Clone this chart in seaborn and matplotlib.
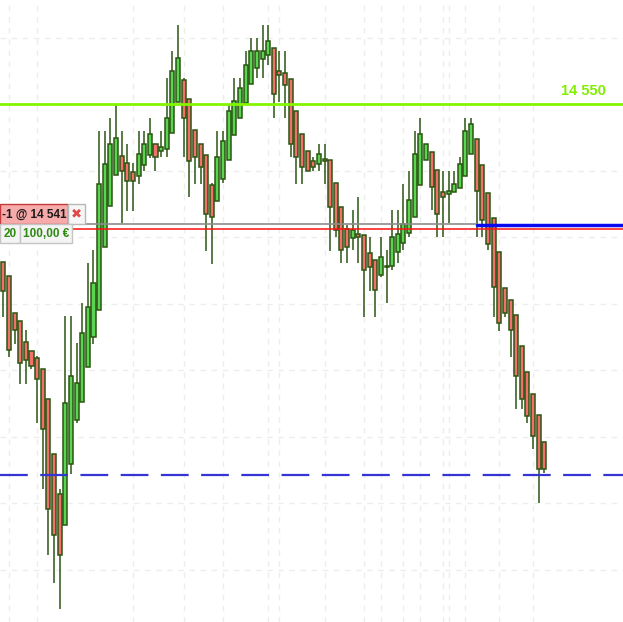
import numpy as np
import pandas as pd
import seaborn as sns
import matplotlib.pyplot as plt
from matplotlib.patches import Rectangle

# candle data (price points), one row per bar
opens = [14538.10, 14537.05, 14534.26, 14533.66, 14532.08, 14531.41, 14530.88, 14530.05, 14527.80, 14523.66,
         14520.65, 14518.32, 14522.91, 14526.22, 14527.62, 14530.20, 14532.46, 14534.49, 14539.23, 14542.31,
         14544.64, 14546.07, 14545.54, 14544.86, 14544.56, 14545.39, 14546.14, 14546.97, 14546.44, 14546.59,
         14547.80, 14550.13, 14551.78, 14550.35, 14548.02, 14546.97, 14546.14, 14543.89, 14542.68, 14544.34,
         14545.77, 14547.65, 14548.92, 14550.05, 14551.48, 14552.68, 14553.36, 14553.66, 14554.19, 14552.46,
         14552.31, 14551.86, 14549.45, 14547.72, 14546.44, 14545.69, 14545.47, 14545.84, 14545.77, 14544.04,
         14542.23, 14540.58, 14539.90, 14540.20, 14540.13, 14538.77, 14538.25, 14537.12, 14537.72, 14537.80,
         14538.85, 14539.53, 14540.28, 14541.48, 14543.89, 14545.77, 14546.37, 14545.02, 14543.36, 14543.21,
         14543.36, 14543.66, 14544.56, 14546.22, 14547.35, 14545.39, 14543.29, 14541.41, 14538.85, 14536.14,
         14535.24, 14534.11, 14531.78, 14529.83, 14528.17, 14526.59, 14524.56]
highs = [14538.10, 14537.05, 14534.26, 14533.66, 14533.01, 14531.41, 14531.05, 14530.05, 14527.80, 14523.66,
         14521.08, 14534.06, 14534.06, 14532.03, 14535.02, 14538.02, 14539.02, 14547.97, 14547.97, 14548.92,
         14549.92, 14547.97, 14546.99, 14545.54, 14547.97, 14547.97, 14548.92, 14546.97, 14547.97, 14551.93,
         14553.98, 14555.94, 14551.93, 14550.35, 14548.02, 14546.97, 14546.14, 14544.04, 14547.97, 14547.97,
         14549.95, 14551.93, 14551.93, 14553.98, 14554.94, 14554.94, 14555.94, 14555.94, 14554.19, 14553.98,
         14553.98, 14551.86, 14549.45, 14547.72, 14546.44, 14545.99, 14546.97, 14546.97, 14545.77, 14544.04,
         14542.23, 14540.90, 14542.03, 14543.03, 14540.13, 14539.98, 14538.25, 14539.98, 14539.02, 14542.03,
         14542.03, 14543.96, 14544.94, 14547.95, 14548.92, 14546.97, 14546.37, 14545.02, 14544.94, 14544.94,
         14544.94, 14545.99, 14548.92, 14548.92, 14547.35, 14545.39, 14543.29, 14541.41, 14538.85, 14536.14,
         14535.24, 14534.11, 14531.78, 14529.83, 14528.17, 14526.59, 14524.56]
lows = [14534.01, 14531.00, 14531.98, 14528.97, 14528.97, 14530.05, 14526.04, 14521.03, 14516.07, 14514.01,
        14512.05, 14518.32, 14522.18, 14526.04, 14527.62, 14530.20, 14531.98, 14534.49, 14539.23, 14542.31,
        14544.64, 14541.03, 14541.98, 14541.98, 14543.96, 14544.94, 14545.92, 14544.94, 14545.99, 14545.99,
        14547.80, 14550.13, 14545.99, 14542.98, 14543.96, 14543.96, 14538.97, 14537.99, 14542.68, 14544.06,
        14545.77, 14547.65, 14548.92, 14550.05, 14551.48, 14551.93, 14551.93, 14552.91, 14548.92, 14550.13,
        14548.92, 14545.99, 14543.96, 14543.96, 14544.94, 14544.94, 14544.94, 14543.96, 14538.97, 14539.98,
        14538.02, 14538.02, 14539.02, 14538.02, 14534.01, 14535.96, 14534.01, 14536.97, 14535.02, 14537.52,
        14538.02, 14539.00, 14539.98, 14541.48, 14543.89, 14545.77, 14542.01, 14539.98, 14539.98, 14541.03,
        14543.36, 14543.66, 14544.56, 14546.22, 14539.98, 14539.98, 14539.00, 14534.01, 14532.95, 14534.01,
        14531.00, 14527.05, 14527.05, 14526.04, 14524.04, 14520.02, 14522.23]
closes = [14535.96, 14531.48, 14532.98, 14530.50, 14530.73, 14530.28, 14529.30, 14525.54, 14519.53, 14517.57,
          14516.07, 14527.50, 14529.53, 14529.00, 14532.76, 14534.71, 14536.52, 14543.98, 14545.47, 14546.97,
          14547.42, 14544.94, 14544.19, 14544.19, 14546.22, 14546.97, 14547.72, 14545.99, 14546.74, 14548.92,
          14552.46, 14553.44, 14548.92, 14545.69, 14545.99, 14545.24, 14541.71, 14541.48, 14545.99, 14547.20,
          14549.45, 14550.20, 14551.18, 14552.91, 14553.96, 14553.96, 14553.96, 14554.71, 14550.73, 14552.16,
          14551.41, 14546.97, 14545.99, 14545.24, 14544.94, 14545.24, 14546.22, 14545.69, 14542.23, 14540.53,
          14539.00, 14539.23, 14540.50, 14539.98, 14537.50, 14537.72, 14535.99, 14538.47, 14537.80, 14539.98,
          14540.20, 14540.95, 14542.76, 14546.22, 14547.72, 14546.97, 14543.74, 14541.71, 14542.98, 14543.44,
          14543.96, 14545.47, 14547.95, 14548.47, 14543.44, 14541.26, 14539.45, 14536.22, 14533.51, 14534.26,
          14532.98, 14529.53, 14527.80, 14526.52, 14525.02, 14522.53, 14522.53]

# levels on the chart
target_level = 14550
entry_level = 14541.0
current_level = 14540.9
stop_level = 14540.6
dashed_level = 14522.1
grid_prices = [14515, 14520, 14525, 14530, 14535, 14540, 14545, 14550, 14555]
grid_bars = [1, 6, 23, 32, 39, 47, 49, 57, 64, 67, 71, 74, 78, 79, 82, 88, 94]

order_label = "-1 @ 14 541"
qty_label = "20"
value_label = "100,00 €"
target_label = "14 550"

df = pd.DataFrame({"open": opens, "high": highs, "low": lows, "close": closes})
df["bar"] = np.arange(len(df))
df["up"] = df["close"] >= df["open"]

W, H = 623, 622
sns.set_theme(style="white")
plt.rcParams['font.family'] = ['Liberation Sans', 'DejaVu Sans']

fig = plt.figure(figsize=(W / 100, H / 100), dpi=100)
ax = fig.add_axes([0, 0, 1, 1])

px_per_bar = 5.636
px_per_pt = 13.3
ax.set_xlim(-3.3 / px_per_bar, (W - 3.3) / px_per_bar)
ax.set_ylim(target_level - (H - 104) / px_per_pt, target_level + 104 / px_per_pt)

# grid (very faint)
for p in grid_prices:
    ax.axhline(p, color='#ededed', lw=1, ls=(0, (4, 4)), zorder=0)
for b in grid_bars:
    ax.axvline(b, color='#ededed', lw=1, ls=(0, (4, 4)), zorder=0)

edge = '#2b5512'
ax.vlines(df["bar"], df["low"], df["high"], color=edge, lw=1.1, zorder=2)
body_bottom = df[["open", "close"]].min(axis=1)
body_height = (df["close"] - df["open"]).abs().clip(lower=0.08)
ax.bar(df["bar"], body_height, bottom=body_bottom, width=0.72,
       color=np.where(df["up"], '#5ad552', '#f2716a'), edgecolor=edge, linewidth=1.1, zorder=3)

# horizontal levels
ax.axhline(target_level, color='#84f500', lw=2, zorder=4)
ax.axhline(entry_level, xmin=0, xmax=477 / W, color='#8c8c8c', lw=1.2, zorder=4)
ax.axhline(current_level, xmin=477 / W, xmax=1, color='#0a0af0', lw=2.5, zorder=4)
ax.axhline(stop_level, color='#ff1010', lw=1.1, zorder=4)
ax.axhline(dashed_level, color='#3535d6', lw=1.6, ls=(0, (12.5, 5.6)), zorder=4)

ax.text(583 / W, 1 - 91 / H, target_label, transform=ax.transAxes, color='#80ee00',
        fontsize=10.5, fontweight='bold', ha='center', va='center')


def box(x0, y0, x1, y1, fc, ec):
    r = Rectangle((x0 / W, 1 - y1 / H), (x1 - x0) / W, (y1 - y0) / H, transform=fig.transFigure,
                  facecolor=fc, edgecolor=ec, lw=1, zorder=10)
    fig.add_artist(r)


box(0, 204, 68, 224, '#f7aaaa', '#c23a3a')
box(68, 204, 85, 224, '#f6f6f6', '#b8b8b8')
box(0, 224, 20, 243, '#f4f4f4', '#c4c4c4')
box(20, 224, 72, 243, '#f4f4f4', '#c4c4c4')

fig.text(34 / W, 1 - 214.5 / H, order_label, color='#1a1a1a', fontsize=8.5, fontweight='bold',
         ha='center', va='center', zorder=11)
fig.text(76.5 / W, 1 - 214 / H, "✖", color='#e04848', fontsize=9.5, family=['DejaVu Sans'],
         fontweight='bold', ha='center', va='center', zorder=11)
fig.text(10 / W, 1 - 234 / H, qty_label, color='#2e8a12', fontsize=8.5, fontweight='bold',
         ha='center', va='center', zorder=11)
fig.text(46 / W, 1 - 234 / H, value_label, color='#2e8a12', fontsize=8.5, fontweight='bold',
         ha='center', va='center', zorder=11)

ax.set_xticks([])
ax.set_yticks([])
sns.despine(ax=ax, left=True, bottom=True)

fig.savefig("out.png", dpi=100)
